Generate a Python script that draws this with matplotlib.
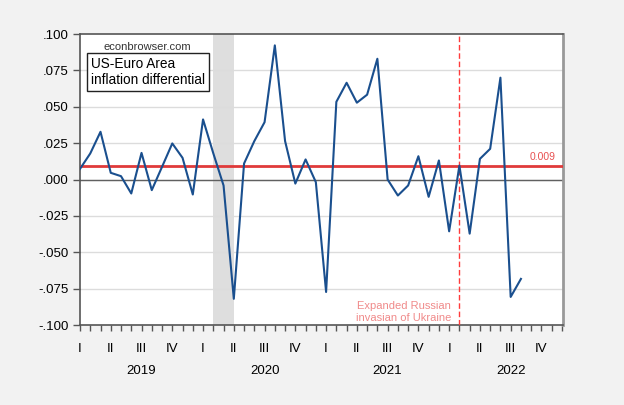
import numpy as np
import matplotlib
matplotlib.use("Agg")
import matplotlib.pyplot as plt
from matplotlib.transforms import blended_transform_factory

plt.rcParams['font.family'] = ['Liberation Sans', 'DejaVu Sans']

# monthly US-Euro area inflation differential, 2019M01 - 2022M08
diff = [0.0073, 0.0179, 0.0328, 0.0046, 0.0023, -0.0096, 0.0183, -0.0073,
        0.0087, 0.0248, 0.0149, -0.0103,
        0.0413, 0.0180, -0.0041, -0.0820, 0.0110, 0.0264, 0.0394, 0.0922,
        0.0264, -0.0028, 0.0138, -0.0018,
        -0.0773, 0.0534, 0.0665, 0.0528, 0.0583, 0.0830, 0.0000, -0.0110,
        -0.0041, 0.0160, -0.0119, 0.0131,
        -0.0356, 0.0096, -0.0372, 0.0142, 0.0211, 0.0700, -0.0807, -0.0683]
mean_level = 0.009
years = ["2019", "2020", "2021", "2022"]
quarters = ["I", "II", "III", "IV"]
yticks = [-0.1, -0.075, -0.05, -0.025, 0.0, 0.025, 0.05, 0.075, 0.1]
recession = (13, 15)      # 2020M02 - 2020M04
invasion = 37             # 2022M02

months = np.arange(len(diff))

fig = plt.figure(figsize=(6.24, 4.05), dpi=100, facecolor="#f2f2f2")
ax = fig.add_axes([0.1282, 0.1975, 0.774, 0.7185])
ax.set_facecolor("white")

ax.axvspan(recession[0], recession[1], color="#dedede", lw=0, zorder=0)
for v in yticks[1:-1]:
    ax.axhline(v, color="#dcdcdc", lw=1, zorder=1)
ax.axhline(0, color="#606060", lw=1, zorder=2)
ax.axhline(mean_level, color="#e03a3a", lw=2, zorder=3)
ax.axvline(invasion, color="#ff3b3b", lw=1, ls=(0, (4, 2)), zorder=3)
ax.plot(months, diff, color="#1a4f8e", lw=1.5, zorder=4)

ax.set_ylim(-0.1, 0.1)
ax.set_xlim(0, 47.1)
ax.set_yticks(yticks)
ax.set_yticklabels([("%.3f" % v).replace("0.", ".") for v in yticks])
ax.yaxis.set_tick_params(labelsize=9.5, length=5, width=1, color="#555555", pad=3)

qpos = np.arange(0, 48, 3)
ax.set_xticks(qpos)
ax.set_xticklabels([quarters[k % 4] for k in range(len(qpos))])
ax.set_xticks(np.arange(0, 48), minor=True)
ax.xaxis.set_tick_params(which="both", labelsize=9.5, length=4, width=1,
                         color="#555555", pad=9)

trans = blended_transform_factory(ax.transData, ax.transAxes)
for k, yr in enumerate(years):
    ax.text(6 + 12 * k, -0.157, yr, transform=trans, ha="center", va="center",
            fontsize=9.5)

for side in ["left", "bottom", "top"]:
    ax.spines[side].set_color("#555555")
    ax.spines[side].set_linewidth(1.2)
ax.spines["right"].set_color("#999999")
ax.spines["right"].set_linewidth(2)

ax.text(0.14, 0.955, "econbrowser.com", transform=ax.transAxes, ha="center",
        va="center", fontsize=8, color="#333333")
ax.text(0.022, 0.87, "US-Euro Area\ninflation differential", transform=ax.transAxes,
        ha="left", va="center", fontsize=9.8, linespacing=1.15,
        bbox=dict(boxstyle="square,pad=0.3", fc="white", ec="#222222", lw=1))
trans_y = blended_transform_factory(ax.transAxes, ax.transData)
ax.text(0.985, mean_level + 0.003, "0.009", transform=trans_y, ha="right",
        va="bottom", fontsize=7.5, color="#e85050")
ax.text(invasion - 0.8, -0.091, "Expanded Russian\ninvasian of Ukraine",
        ha="right", va="center", fontsize=8, color="#f08a8a", linespacing=1.3)

fig.savefig("out.png", dpi=100, facecolor=fig.get_facecolor())
